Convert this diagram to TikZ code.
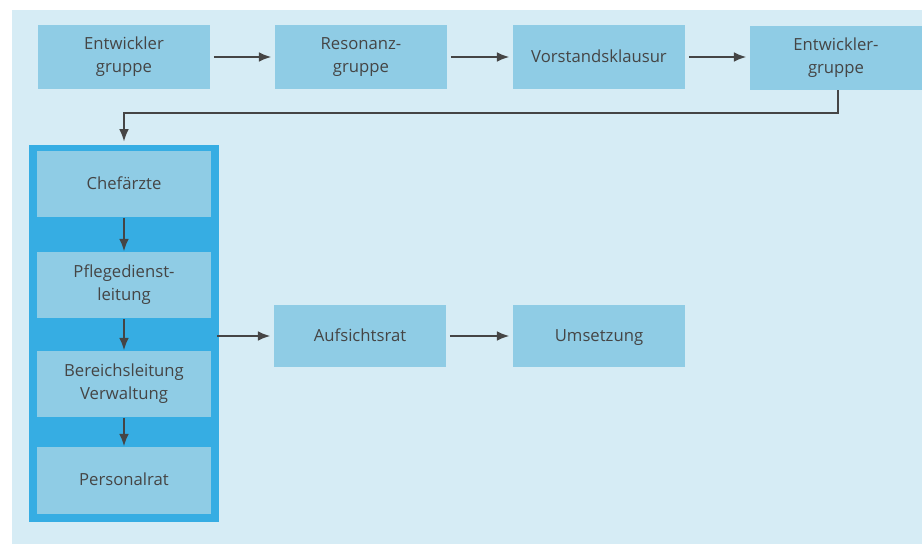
\documentclass[tikz,border=0pt]{standalone}
\usepackage{fontspec}
\setmainfont{Open Sans}
\usepackage{tikz}
\usetikzlibrary{arrows.meta}
\definecolor{panelblue}{HTML}{D6ECF5}
\definecolor{boxblue}{HTML}{8FCCE5}
\definecolor{frameblue}{HTML}{36ADE3}
\definecolor{arrowgray}{HTML}{454545}

\begin{document}
\begin{tikzpicture}[x=0.02cm,y=-0.02cm]
\tikzstyle{every node}=[font=\fontsize{9.5}{13}\selectfont,text=arrowgray,align=center,inner sep=0pt];
\tikzstyle{stepbox}=[fill=boxblue,minimum width=3.44cm,minimum height=1.28cm];
\tikzstyle{stackbox}=[stepbox,minimum width=3.5cm,minimum height=1.34cm];
\tikzstyle{oneline}=[text height=1.6ex,text depth=0.4ex];
\tikzstyle{flow}=[draw=arrowgray,line width=0.8pt,shorten <=2pt,shorten >=2pt,-{Latex[length=7pt,width=5.5pt]}];
\useasboundingbox (0,0) rectangle (922,544);
\fill[white] (0,0) rectangle (922,544);
\fill[panelblue] (12,10) rectangle (922,544);
\node[stepbox] (dev1) at (124,57) {Entwickler\\gruppe};
\node[stepbox] (reso) at (361,57) {Resonanz-\\gruppe};
\node[stepbox,oneline] (board) at (599,57) {Vorstandsklausur};
\node[stepbox] (dev2) at (836,58) {Entwickler-\\gruppe};
\fill[frameblue] (29,145) rectangle (219,522);
\node[stackbox,oneline] (chief) at (124,184) {Chefärzte};
\node[stackbox] (care) at (124,285) {Pflegedienst-\\leitung};
\node[stackbox] (admin) at (124,384) {Bereichsleitung\\Verwaltung};
\node[stackbox,oneline] (staff) at (124,480) {Personalrat};
\node[stepbox,oneline,minimum height=1.26cm] (super) at (360,336) {Aufsichtsrat};
\node[stepbox,oneline,minimum height=1.26cm] (impl) at (599,336) {Umsetzung};
\coordinate (stack) at (217,336);
\coordinate (bend) at (124,113);
\draw[flow] (dev1) -- (reso);
\draw[flow] (reso) -- (board);
\draw[flow] (board.east) -- (board.east -| dev2.west);
\draw[flow,shorten <=0pt] (dev2.south -| 838,0) |- (bend) -- (124,145);
\foreach \a/\b in {chief/care,care/admin,admin/staff}
  \draw[flow,shorten <=0pt,shorten >=0pt] (\a) -- (\b);
\draw[flow,shorten <=0pt] (stack) -- (super);
\draw[flow] (super) -- (impl);
\end{tikzpicture}
\end{document}
